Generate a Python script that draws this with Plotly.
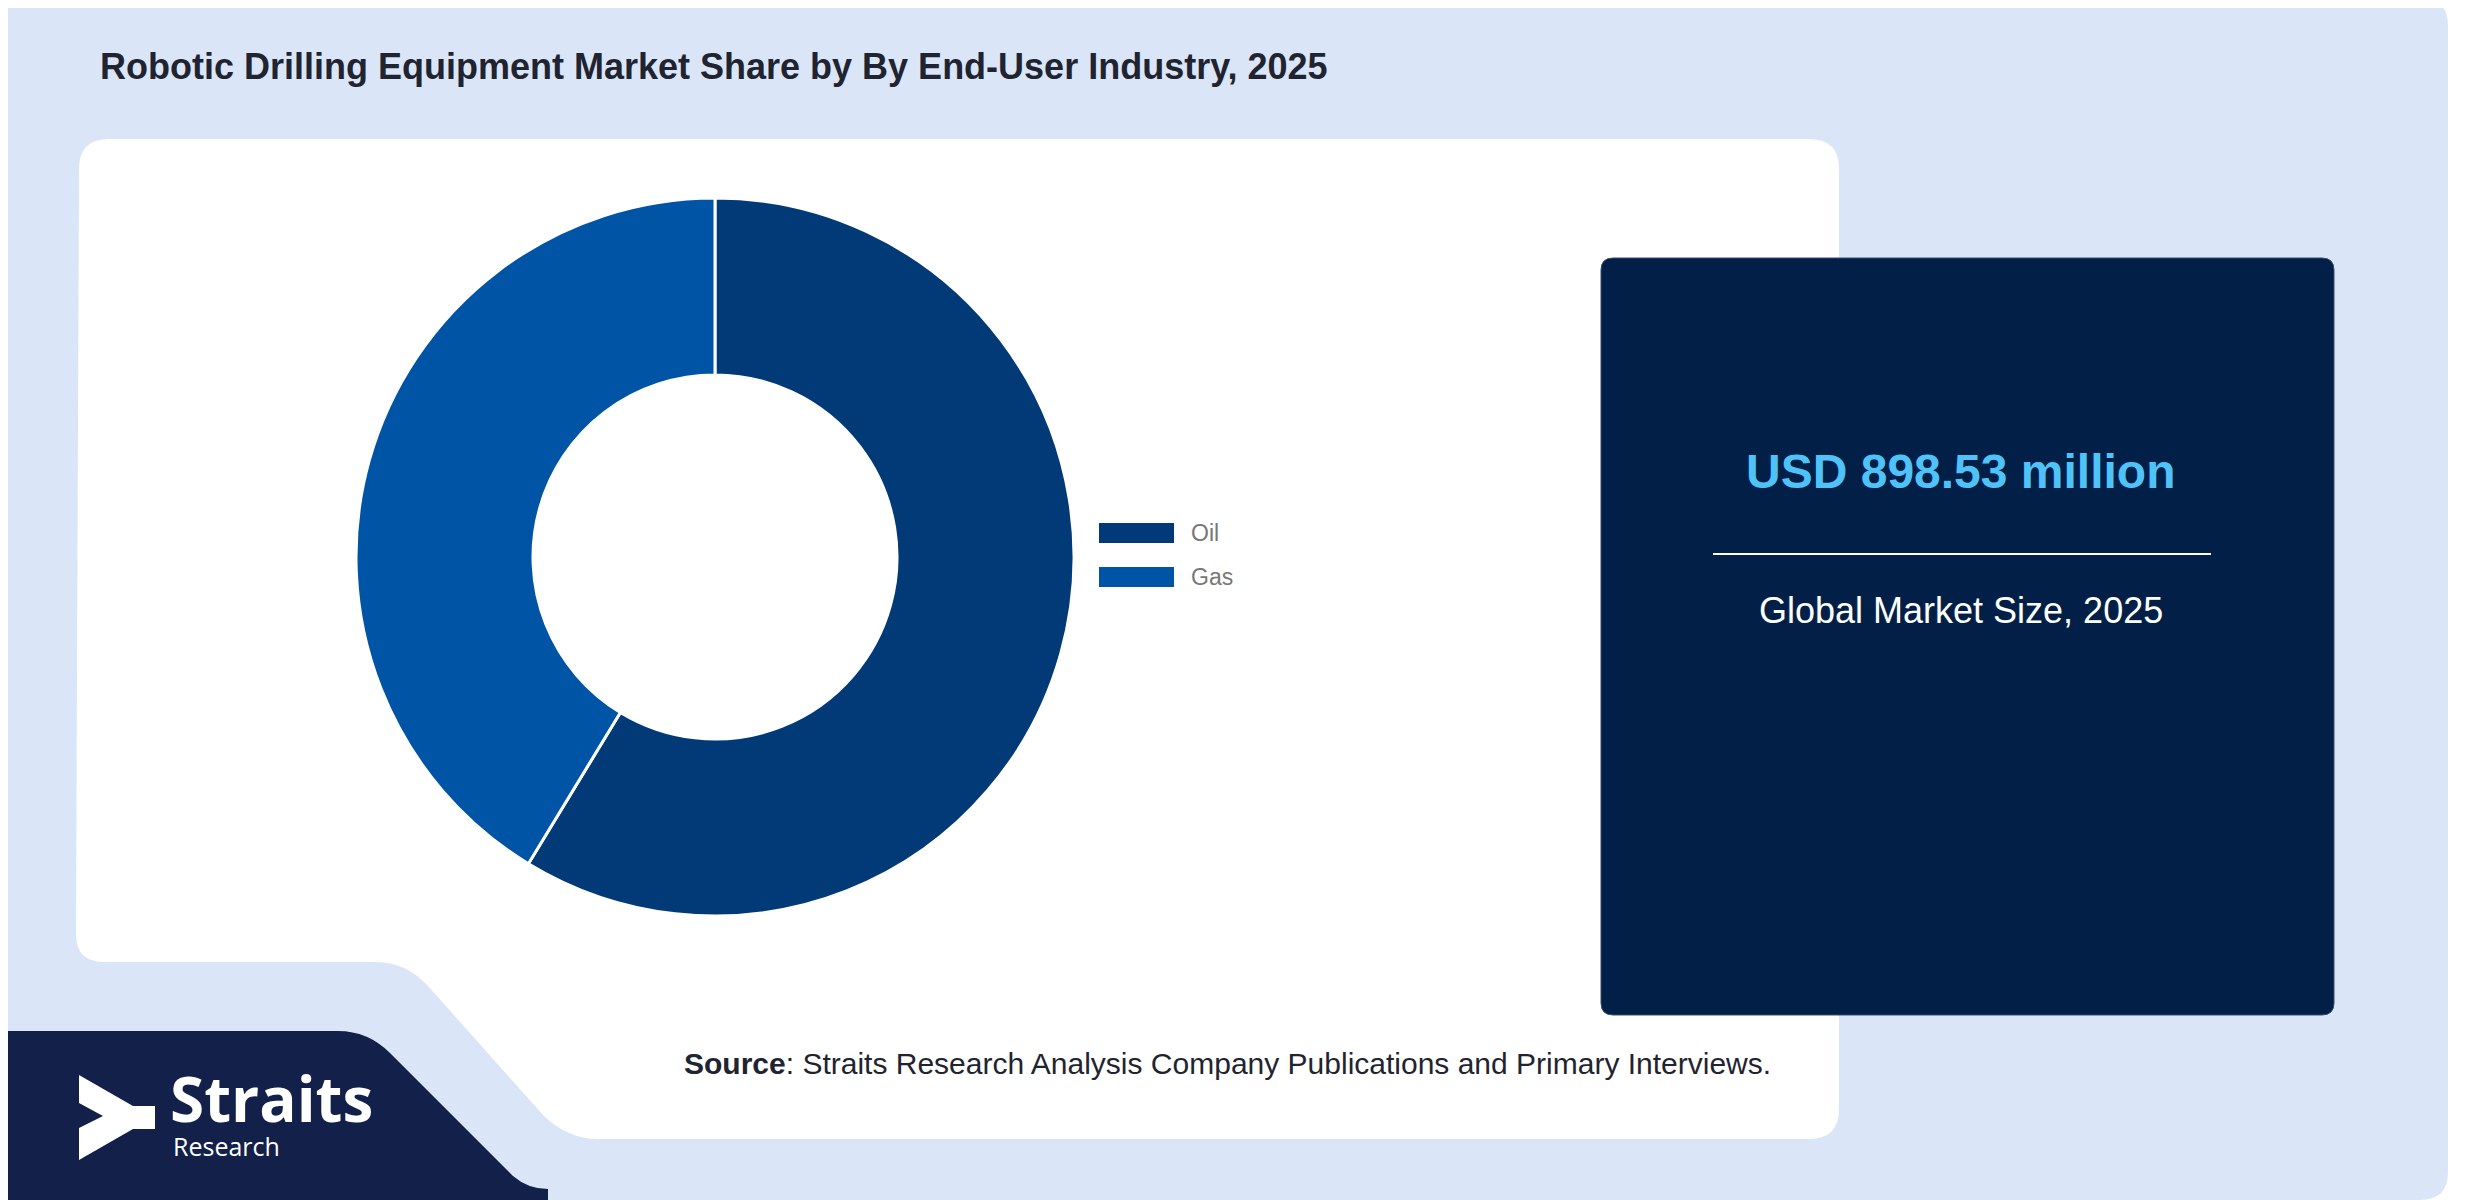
import plotly.graph_objects as go

W, H = 2480, 1200

# data
segments = ['Oil', 'Gas']
shares = [58.7, 41.3]
seg_colors = ['#023a78', '#0054a6']

title_text = 'Robotic Drilling Equipment Market Share by By End-User Industry, 2025'
market_value = 'USD 898.53 million'
market_label = 'Global Market Size, 2025'


def rounded_rect(x0, y0, x1, y1, r):
    return (f'M {x0+r},{y0} L {x1-r},{y0} Q {x1},{y0} {x1},{y0+r} '
            f'L {x1},{y1-r} Q {x1},{y1} {x1-r},{y1} L {x0+r},{y1} '
            f'Q {x0},{y1} {x0},{y1-r} L {x0},{y0+r} Q {x0},{y0} {x0+r},{y0} Z')


fig = go.Figure()

# invisible trace so the pixel-space axes exist
fig.add_trace(go.Scatter(x=[0, W], y=[0, H], mode='markers', marker=dict(opacity=0),
                         hoverinfo='skip', showlegend=False))

# donut
cx, cy, R = 707, 549, 359
fig.add_trace(go.Pie(
    labels=segments, values=shares, hole=0.507, sort=False, direction='clockwise',
    rotation=0, marker=dict(colors=seg_colors, line=dict(color='white', width=3)),
    textinfo='none', showlegend=False, hoverinfo='label+percent',
    domain=dict(x=[(cx - R) / W, (cx + R) / W], y=[1 - (cy + R) / H, 1 - (cy - R) / H]),
))

shapes = []
# page background
shapes.append(dict(type='path', path=rounded_rect(-10, -10, 2440, 1192, 28), fillcolor='#dae6f8',
                   line=dict(width=0), layer='below'))
# white panel with notch at bottom-left
shapes.append(dict(type='path', layer='below', fillcolor='white', line=dict(width=0),
                   path='M 101,131 L 1801,131 Q 1831,131 1831,161 L 1831,1101 Q 1831,1131 1801,1131 '
                        'L 590,1131 Q 560,1131 536,1108 L 420,978 Q 398,954 368,954 '
                        'L 96,954 Q 68,954 68,926 L 71,161 Q 71,131 101,131 Z'))
# dark info box
shapes.append(dict(type='path', path=rounded_rect(1593, 250, 2326, 1007, 12),
                   fillcolor='#011f47', line=dict(color='#3a4d6e', width=1), layer='below'))
shapes.append(dict(type='line', x0=1705, x1=2203, y0=546, y1=546,
                   line=dict(color='white', width=2)))
# navy logo band
shapes.append(dict(type='path', layer='below', fillcolor='#13204a', line=dict(width=0),
                   path='M -10,1023 L 330,1023 Q 360,1023 382,1045 L 505,1168 Q 520,1181 540,1181 '
                        'L 540,1210 L -10,1210 Z'))
# logo arrow
shapes.append(dict(type='path', fillcolor='white', line=dict(width=0),
                   path='M 71,1067 L 125,1098 L 147,1098 L 147,1121 L 125,1121 '
                        'L 71,1152 L 71,1120 L 95,1108 L 71,1095 Z'))
# legend bars
for i, c in enumerate(seg_colors):
    y = 525 + i * 44
    shapes.append(dict(type='rect', x0=1091, x1=1166, y0=y - 10, y1=y + 10,
                       fillcolor=c, line=dict(width=0)))

ann = []
for i, s in enumerate(segments):
    ann.append(dict(x=1181, y=525 + i * 44, text=s, xanchor='left', yanchor='middle',
                    font=dict(size=23, color='#777777', family='Liberation Sans')))
ann += [
    dict(x=90, y=58, text=f'<b>{title_text}</b>', xanchor='left', yanchor='middle',
         font=dict(size=36, color='#1f2430', family='Liberation Sans')),
    dict(x=1953, y=463, text=f'<b>{market_value}</b>', xanchor='center', yanchor='middle',
         font=dict(size=48, color='#4fc3f7', family='Liberation Sans')),
    dict(x=1953, y=602, text=market_label, xanchor='center', yanchor='middle',
         font=dict(size=36, color='white', family='Liberation Sans')),
    dict(x=674, y=1055, text='<b>Source</b>: Straits Research Analysis Company Publications and Primary Interviews.',
         xanchor='left', yanchor='middle', font=dict(size=30, color='#1f2430', family='Liberation Sans')),
    dict(x=160, y=1090, text='<b>Straits</b>', xanchor='left', yanchor='middle',
         font=dict(size=62, color='white', family='Open Sans')),
    dict(x=163, y=1138, text='Research', xanchor='left', yanchor='middle',
         font=dict(size=25, color='white', family='Open Sans')),
]
for a in ann:
    a.update(xref='x', yref='y', showarrow=False)

fig.update_layout(
    width=W, height=H, margin=dict(l=0, r=0, t=0, b=0),
    paper_bgcolor='white', plot_bgcolor='rgba(0,0,0,0)',
    xaxis=dict(range=[0, W], visible=False, fixedrange=True),
    yaxis=dict(range=[H, 0], visible=False, fixedrange=True),
    shapes=shapes, annotations=ann, showlegend=False,
)
fig.write_html('out.html')
